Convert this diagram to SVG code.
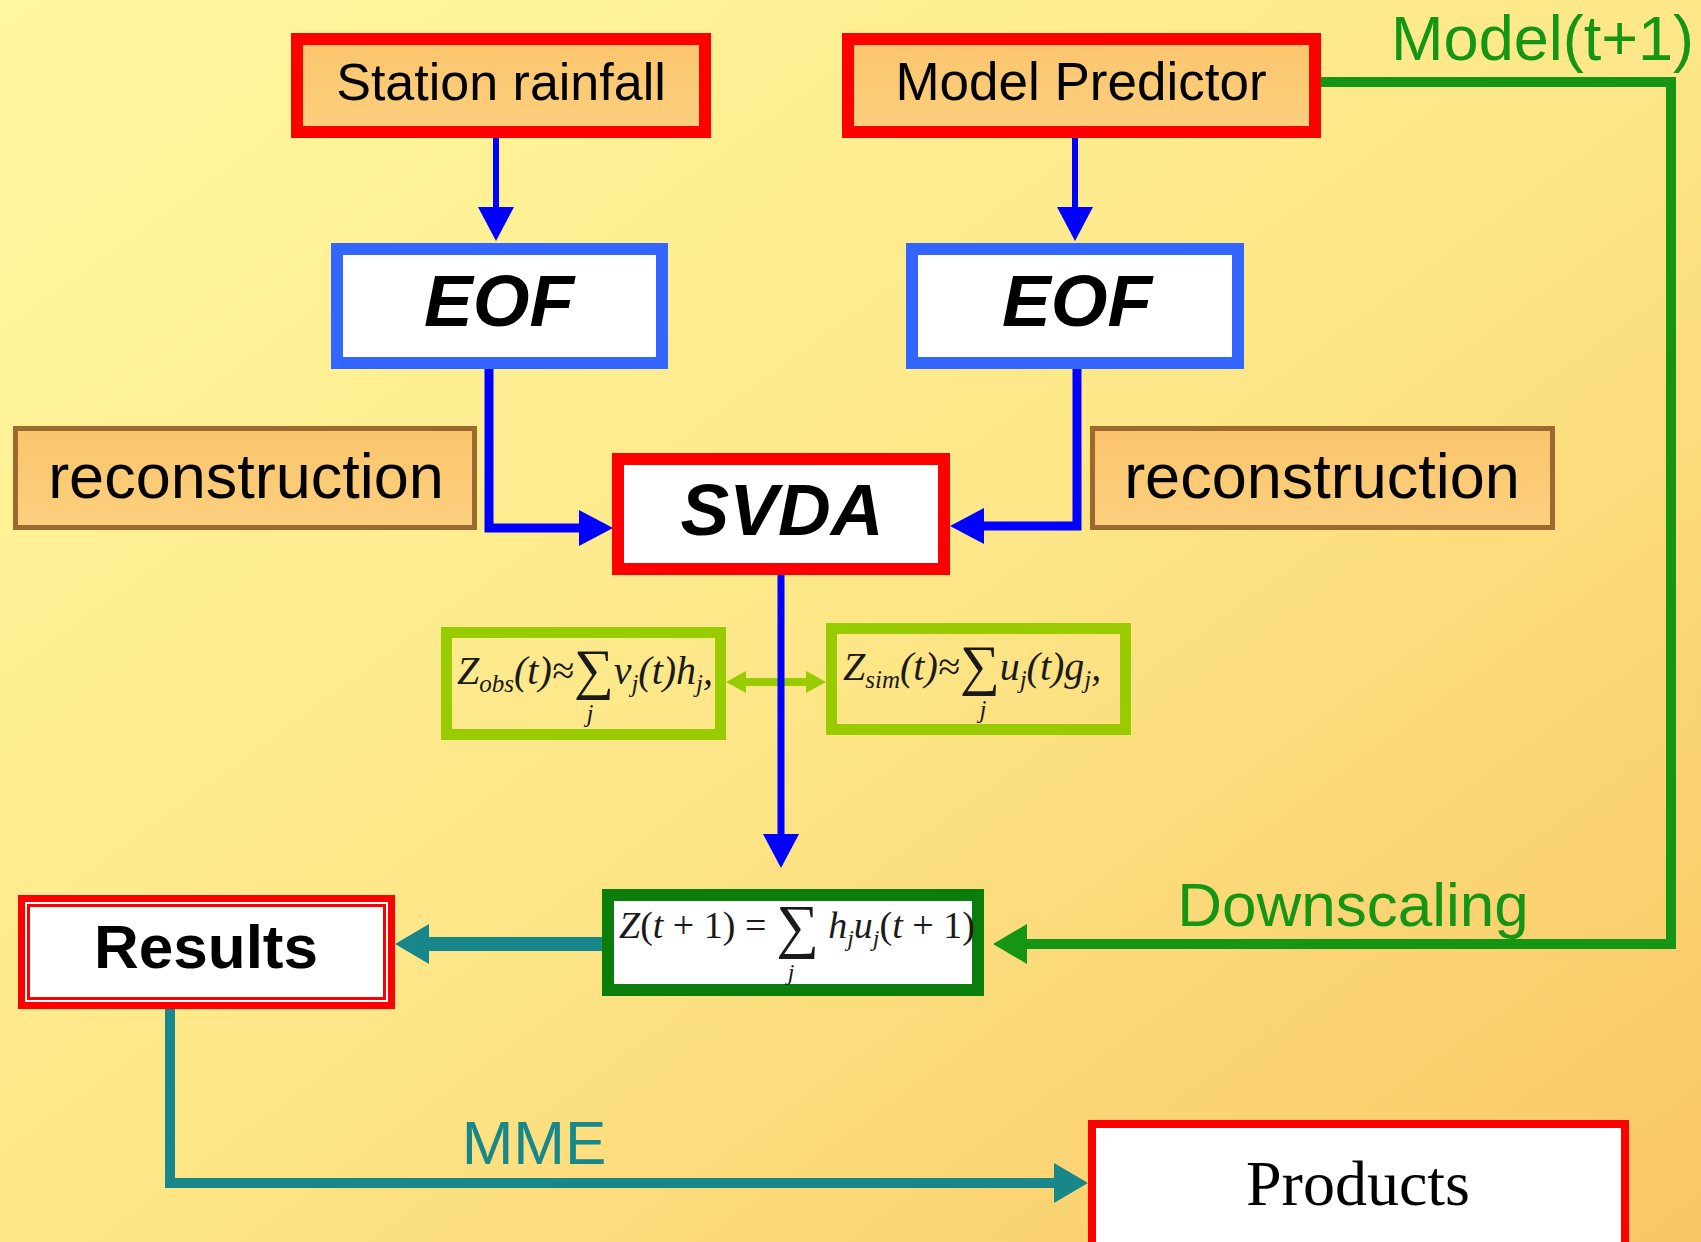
<svg xmlns="http://www.w3.org/2000/svg" width="1701" height="1242" viewBox="0 0 1701 1242">
<defs>
<linearGradient id="bg" x1="0" y1="0" x2="1" y2="1">
<stop offset="0" stop-color="#fff8a0"/>
<stop offset="0.5" stop-color="#fde788"/>
<stop offset="1" stop-color="#f9c665"/>
</linearGradient>
<linearGradient id="orange" x1="0" y1="0" x2="0" y2="1">
<stop offset="0" stop-color="#fbc46c"/>
<stop offset="1" stop-color="#fcd07e"/>
</linearGradient>
<marker id="ahBlue" viewBox="0 0 34 36" refX="0" refY="18" markerWidth="34" markerHeight="36" markerUnits="userSpaceOnUse" orient="auto">
<path d="M0,0 L34,18 L0,36 z" fill="#0000ff"/>
</marker>
<marker id="ahGreen" viewBox="0 0 34 40" refX="0" refY="20" markerWidth="34" markerHeight="40" markerUnits="userSpaceOnUse" orient="auto">
<path d="M0,0 L34,20 L0,40 z" fill="#149614"/>
</marker>
<marker id="ahTeal" viewBox="0 0 34 40" refX="0" refY="20" markerWidth="34" markerHeight="40" markerUnits="userSpaceOnUse" orient="auto">
<path d="M0,0 L34,20 L0,40 z" fill="#17878a"/>
</marker>
<marker id="ahLime" viewBox="0 0 20 22" refX="0" refY="11" markerWidth="20" markerHeight="22" markerUnits="userSpaceOnUse" orient="auto-start-reverse">
<path d="M0,0 L20,11 L0,22 z" fill="#99cc00"/>
</marker>
</defs>
<style>
.sans{font-family:"Liberation Sans",Arial,sans-serif}
.serif{font-family:"Liberation Serif","Times New Roman",serif}
.bi{font-weight:bold;font-style:italic}
.red{stroke:#ff0000;stroke-width:12}
.orangebox{fill:url(#orange)}
.eof{fill:#ffffff;stroke:#3366ff;stroke-width:12}
.recon{fill:url(#orange);stroke:#9a6a2e;stroke-width:5}
.lime{fill:none;stroke:#99cc00;stroke-width:11}
.blue{fill:none;stroke:#0000ff}
.math{font-family:"Liberation Serif","Times New Roman",serif;font-style:italic;fill:#1a1a1a}
</style>
<rect x="0" y="0" width="1701" height="1242" fill="url(#bg)"/>

<g id="connectors">
<path d="M746,682 H806" fill="none" stroke="#99cc00" stroke-width="8" marker-start="url(#ahLime)" marker-end="url(#ahLime)"/>
<path class="blue" d="M496,138 V207" stroke-width="6" marker-end="url(#ahBlue)"/>
<path class="blue" d="M1075,138 V207" stroke-width="6" marker-end="url(#ahBlue)"/>
<path class="blue" d="M489,369 V528 H579" stroke-width="9" marker-end="url(#ahBlue)"/>
<path class="blue" d="M1077,369 V526 H984" stroke-width="9" marker-end="url(#ahBlue)"/>
<path class="blue" d="M781,575 V834" stroke-width="7" marker-end="url(#ahBlue)"/>
<path d="M1321,82 H1671 V944 H1027" fill="none" stroke="#149614" stroke-width="10" marker-end="url(#ahGreen)"/>
<path d="M602,944 H429" fill="none" stroke="#17878a" stroke-width="14" marker-end="url(#ahTeal)"/>
<path d="M170,1009 V1183 H1054" fill="none" stroke="#17878a" stroke-width="10" marker-end="url(#ahTeal)"/>
</g>

<g id="station-rainfall">
<rect class="orangebox red" x="297" y="39" width="408" height="93"/>
<text class="sans" x="501" y="100" font-size="52" text-anchor="middle" fill="#000">Station rainfall</text>
</g>
<g id="model-predictor">
<rect class="orangebox red" x="848" y="39" width="467" height="93"/>
<text class="sans" x="1081" y="100" font-size="53" text-anchor="middle" fill="#000">Model Predictor</text>
</g>
<g id="label-model-t1">
<text class="sans" x="1694" y="60" font-size="63" text-anchor="end" fill="#149614">Model(t+1)</text>
</g>
<g id="eof-left">
<rect class="eof" x="337" y="249" width="325" height="114"/>
<text class="sans bi" x="499" y="326" font-size="73" text-anchor="middle" fill="#000">EOF</text>
</g>
<g id="eof-right">
<rect class="eof" x="912" y="249" width="326" height="114"/>
<text class="sans bi" x="1077" y="326" font-size="73" text-anchor="middle" fill="#000">EOF</text>
</g>
<g id="reconstruction-left">
<rect class="recon" x="15.5" y="428.5" width="459" height="99"/>
<text class="sans" x="246" y="498" font-size="63" text-anchor="middle" fill="#000">reconstruction</text>
</g>
<g id="reconstruction-right">
<rect class="recon" x="1092.5" y="428.5" width="460" height="99"/>
<text class="sans" x="1322" y="498" font-size="63" text-anchor="middle" fill="#000">reconstruction</text>
</g>
<g id="svda">
<rect fill="#ffffff" class="red" x="618" y="459" width="326" height="110"/>
<text class="sans bi" x="782" y="535" font-size="73" text-anchor="middle" fill="#000">SVDA</text>
</g>
<g id="formula-obs">
<rect class="lime" x="446.5" y="632.5" width="274" height="102"/>
<text class="math" x="457" y="684" font-size="40">Z<tspan font-size="25" dy="8">obs</tspan><tspan dy="-8">(t)≈</tspan><tspan font-style="normal" font-size="56" dy="4">∑</tspan><tspan dy="-4">v</tspan><tspan font-size="25" dy="8">j</tspan><tspan dy="-8">(t)h</tspan><tspan font-size="25" dy="8">j</tspan><tspan dy="-8">,</tspan></text>
<text class="math" x="590" y="722" font-size="25" text-anchor="middle">j</text>
</g>
<g id="formula-sim">
<rect class="lime" x="831.5" y="628.5" width="294" height="101"/>
<text class="math" x="843" y="680" font-size="40">Z<tspan font-size="25" dy="8">sim</tspan><tspan dy="-8">(t)≈</tspan><tspan font-style="normal" font-size="56" dy="4">∑</tspan><tspan dy="-4">u</tspan><tspan font-size="25" dy="8">j</tspan><tspan dy="-8">(t)g</tspan><tspan font-size="25" dy="8">j</tspan><tspan dy="-8">,</tspan></text>
<text class="math" x="983" y="718" font-size="25" text-anchor="middle">j</text>
</g>
<g id="formula-z">
<rect fill="#ffffff" stroke="#0a7d0a" stroke-width="12" x="608" y="895" width="370" height="95"/>
<text class="math" x="619" y="938" font-size="38">Z<tspan font-style="normal">(</tspan>t<tspan font-style="normal"> + 1) = </tspan><tspan font-style="normal" font-size="60" dy="8">∑</tspan><tspan dy="-8"> h</tspan><tspan font-size="24" dy="8">j</tspan><tspan dy="-8">u</tspan><tspan font-size="24" dy="8">j</tspan><tspan font-style="normal" dy="-8">(</tspan>t<tspan font-style="normal"> + 1)</tspan></text>
<text class="math" x="791" y="980" font-size="24" text-anchor="middle">j</text>
</g>
<g id="results">
<rect fill="#ffffff" stroke="#ff0000" stroke-width="12" x="24" y="901" width="365" height="102"/>
<rect fill="none" stroke="#ffffff" stroke-width="2" x="26" y="903" width="361" height="98"/>
<text class="sans" x="206" y="968" font-size="62" font-weight="bold" text-anchor="middle" fill="#000">Results</text>
</g>
<g id="label-downscaling">
<text class="sans" x="1353" y="926" font-size="62" text-anchor="middle" fill="#149614">Downscaling</text>
</g>
<g id="label-mme">
<text class="sans" x="534" y="1164" font-size="62" text-anchor="middle" fill="#17878a">MME</text>
</g>
<g id="products">
<rect fill="#ffffff" stroke="#ff0000" stroke-width="8" x="1092" y="1124" width="533" height="130"/>
<text class="serif" x="1358" y="1205" font-size="64" text-anchor="middle" fill="#000">Products</text>
</g>
</svg>
